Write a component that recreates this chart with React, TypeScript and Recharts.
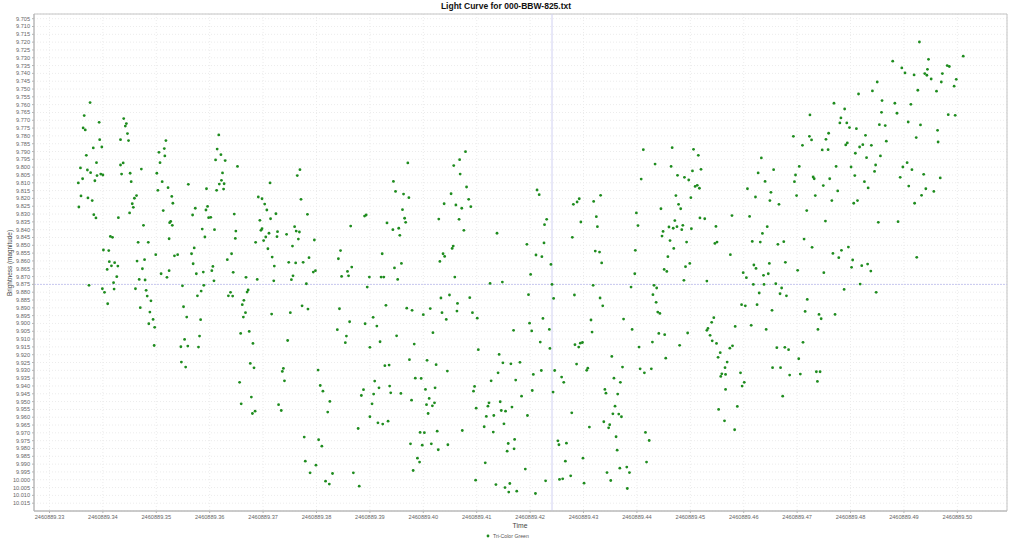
import React from 'react';
import {
  ScatterChart,
  Scatter,
  XAxis,
  YAxis,
  CartesianGrid,
  ReferenceLine,
  ReferenceArea,
} from 'recharts';

// Julian date base; times below are the fractional part of the day
const JD_BASE = 2460889;

const xTicks = [
  0.33, 0.34, 0.35, 0.36, 0.37, 0.38, 0.39, 0.4, 0.41, 0.42, 0.43, 0.44, 0.45, 0.46, 0.47, 0.48,
  0.49, 0.5,
];

const yTicks = [
  9.705, 9.71, 9.715, 9.72, 9.725, 9.73, 9.735, 9.74, 9.745, 9.75, 9.755, 9.76, 9.765, 9.77, 9.775,
  9.78, 9.785, 9.79, 9.795, 9.8, 9.805, 9.81, 9.815, 9.82, 9.825, 9.83, 9.835, 9.84, 9.845, 9.85,
  9.855, 9.86, 9.865, 9.87, 9.875, 9.88, 9.885, 9.89, 9.895, 9.9, 9.905, 9.91, 9.915, 9.92, 9.925,
  9.93, 9.935, 9.94, 9.945, 9.95, 9.955, 9.96, 9.965, 9.97, 9.975, 9.98, 9.985, 9.99, 9.995, 10.0,
  10.005, 10.01, 10.015,
];

const crosshairTime = 0.4241;
const crosshairMag = 9.875;

// observations [time fraction, magnitude], grouped by stretch of the night
const stretch1: [number, number][] = [
  [0.3376, 9.7587], [0.3365, 9.767], [0.3393, 9.7713], [0.3439, 9.7689], [0.3444, 9.7721],
  [0.3442, 9.7737], [0.3363, 9.7749], [0.3367, 9.7762], [0.3446, 9.7785], [0.3394, 9.7824],
  [0.3433, 9.7824], [0.3448, 9.783], [0.3518, 9.783], [0.3398, 9.7871], [0.3382, 9.7877],
  [0.3515, 9.7881], [0.3505, 9.7905], [0.3369, 9.7924], [0.3516, 9.7928], [0.3507, 9.7971],
  [0.3388, 9.7971], [0.3438, 9.7973], [0.3433, 9.7986], [0.3472, 9.8012], [0.3358, 9.8005],
  [0.3371, 9.8018], [0.3377, 9.8035], [0.3396, 9.8044], [0.34, 9.805], [0.3389, 9.8054],
  [0.3435, 9.8044], [0.3451, 9.8039], [0.3501, 9.8039], [0.3362, 9.8074], [0.3385, 9.8087],
  [0.3453, 9.8093], [0.3354, 9.8101], [0.3511, 9.8093], [0.356, 9.811], [0.3522, 9.8131],
  [0.3503, 9.8148], [0.3463, 9.8182], [0.3459, 9.8199], [0.3359, 9.8184], [0.3372, 9.8197],
  [0.338, 9.8214], [0.3529, 9.8187], [0.3455, 9.8234], [0.3531, 9.8231], [0.3355, 9.8255],
  [0.3457, 9.8257], [0.3573, 9.8263], [0.3513, 9.8278], [0.345, 9.8293], [0.3383, 9.8304],
  [0.3387, 9.8325], [0.3429, 9.8323], [0.3568, 9.8306], [0.3527, 9.8347], [0.3525, 9.8355],
  [0.353, 9.8372], [0.3476, 9.8372], [0.3586, 9.8396], [0.3414, 9.8443], [0.3418, 9.8449],
  [0.3524, 9.8458], [0.3466, 9.8481], [0.3485, 9.8481], [0.3571, 9.8517], [0.3401, 9.853],
  [0.3411, 9.8534], [0.3566, 9.8554], [0.3499, 9.856], [0.3534, 9.8567], [0.354, 9.856],
  [0.3478, 9.8592], [0.3464, 9.8601], [0.3412, 9.8605], [0.3422, 9.8611], [0.3569, 9.8618],
  [0.3416, 9.8631], [0.3428, 9.8633], [0.3408, 9.8654], [0.3474, 9.865], [0.3524, 9.8662],
  [0.3509, 9.8682], [0.3575, 9.8682], [0.3588, 9.8671], [0.352, 9.8705], [0.3426, 9.8701],
  [0.3468, 9.8718], [0.3479, 9.8722], [0.342, 9.8739], [0.3374, 9.8756], [0.3549, 9.8759],
  [0.3589, 9.8756], [0.3399, 9.8778], [0.3421, 9.878], [0.3461, 9.8778], [0.3481, 9.8788],
  [0.3403, 9.8801], [0.3584, 9.8793], [0.3483, 9.8825], [0.3577, 9.8823], [0.349, 9.8855],
  [0.3409, 9.8874], [0.3551, 9.8893], [0.347, 9.8899], [0.3488, 9.8927], [0.3557, 9.8959],
  [0.3494, 9.8974], [0.3583, 9.8976], [0.3486, 9.9002], [0.3497, 9.9025], [0.3581, 9.9081],
  [0.3553, 9.9102], [0.3496, 9.9141], [0.3546, 9.9149], [0.3559, 9.9145], [0.3579, 9.9151],
  [0.3547, 9.9247], [0.3555, 9.9279],
];

const stretch2: [number, number][] = [
  [0.3617, 9.7794], [0.3614, 9.7884], [0.3621, 9.792], [0.3611, 9.7954], [0.3629, 9.7958],
  [0.3652, 9.7995], [0.3769, 9.8016], [0.3624, 9.8037], [0.3764, 9.8054], [0.3622, 9.8084],
  [0.3618, 9.8108], [0.3627, 9.8106], [0.3713, 9.8101], [0.3594, 9.8138], [0.3613, 9.8148],
  [0.3626, 9.814], [0.3691, 9.8191], [0.3698, 9.8202], [0.3771, 9.8206], [0.3703, 9.8236],
  [0.3596, 9.8251], [0.3593, 9.8274], [0.3707, 9.8274], [0.3646, 9.83], [0.3724, 9.8298],
  [0.3783, 9.8302], [0.389, 9.8313], [0.3893, 9.8306], [0.3598, 9.8323], [0.3602, 9.8321],
  [0.3714, 9.833], [0.3694, 9.834], [0.3864, 9.8377], [0.3609, 9.84], [0.3759, 9.8381],
  [0.3698, 9.8394], [0.3696, 9.8404], [0.3649, 9.8409], [0.3762, 9.8409], [0.3768, 9.8415],
  [0.3727, 9.8413], [0.3711, 9.8423], [0.3744, 9.843], [0.3591, 9.8447], [0.3705, 9.8447],
  [0.3726, 9.8445], [0.3648, 9.8456], [0.3766, 9.846], [0.3796, 9.8466], [0.3701, 9.847],
  [0.3686, 9.8481], [0.3755, 9.8505], [0.3709, 9.8522], [0.3845, 9.8534], [0.3641, 9.8554],
  [0.3717, 9.8575], [0.3786, 9.8579], [0.3841, 9.8586], [0.3633, 9.8592], [0.3748, 9.8609],
  [0.3761, 9.8613], [0.3775, 9.8609], [0.3606, 9.8635], [0.3721, 9.8633], [0.3866, 9.8639],
  [0.3604, 9.8662], [0.3644, 9.8673], [0.3794, 9.8671], [0.3798, 9.8662], [0.3858, 9.8667],
  [0.3756, 9.8695], [0.3668, 9.8705], [0.3847, 9.8699], [0.386, 9.8695], [0.3899, 9.8703],
  [0.3608, 9.8727], [0.3689, 9.8718], [0.372, 9.8727], [0.3753, 9.872], [0.3781, 9.8746],
  [0.3895, 9.8767], [0.3672, 9.8786], [0.367, 9.8799], [0.3639, 9.8801], [0.3635, 9.8823],
  [0.3643, 9.8825], [0.3664, 9.8852], [0.3773, 9.8887], [0.3661, 9.888], [0.3784, 9.8908],
  [0.3843, 9.8906], [0.3667, 9.8931], [0.3716, 9.894], [0.3751, 9.8931], [0.3663, 9.8959],
  [0.3862, 9.8989], [0.3891, 9.9002], [0.3839, 9.904], [0.3658, 9.9064], [0.3674, 9.9051],
  [0.3856, 9.9081], [0.3854, 9.9123], [0.3681, 9.9128], [0.3746, 9.9109], [0.39, 9.9153],
  [0.3676, 9.9256], [0.3683, 9.9284], [0.3738, 9.9288], [0.3736, 9.9307], [0.3803, 9.9298],
  [0.3656, 9.9377], [0.374, 9.9367], [0.3807, 9.9397], [0.3812, 9.9433], [0.3888, 9.9424],
  [0.3884, 9.9461], [0.3678, 9.9471], [0.3825, 9.9499], [0.3659, 9.9514], [0.3729, 9.952],
  [0.368, 9.9576], [0.3685, 9.9561], [0.3734, 9.9557], [0.3821, 9.9567], [0.39, 9.9597],
  [0.3878, 9.9672], [0.3777, 9.9727], [0.3804, 9.9744], [0.381, 9.9785], [0.3779, 9.9881],
  [0.3799, 9.9907], [0.3788, 9.9956], [0.383, 9.996], [0.3869, 9.9956], [0.3817, 10.0009],
  [0.3824, 10.0028], [0.388, 10.0041],
];

const stretch3: [number, number][] = [
  [0.4079, 9.7901], [0.3971, 9.7973], [0.4068, 9.7952], [0.4057, 9.799], [0.4069, 9.8044],
  [0.3944, 9.8091], [0.4081, 9.8127], [0.3948, 9.8155], [0.3963, 9.8172], [0.4052, 9.817],
  [0.3973, 9.8195], [0.4085, 9.8206], [0.4039, 9.8234], [0.4061, 9.8242], [0.4072, 9.8263],
  [0.4089, 9.8253], [0.3961, 9.8272], [0.3965, 9.8327], [0.4029, 9.8332], [0.4067, 9.8334],
  [0.3967, 9.8353], [0.3932, 9.8357], [0.3954, 9.8391], [0.3943, 9.84], [0.4076, 9.8404],
  [0.3956, 9.8436], [0.4138, 9.8423], [0.4194, 9.8494], [0.4056, 9.8505], [0.4054, 9.852],
  [0.3923, 9.8554], [0.4037, 9.8554], [0.404, 9.8571], [0.4031, 9.8603], [0.3959, 9.8616],
  [0.3946, 9.8645], [0.4201, 9.8686], [0.3921, 9.8703], [0.3926, 9.8703], [0.4059, 9.8703],
  [0.3952, 9.8718], [0.4125, 9.8744], [0.4148, 9.8735], [0.4197, 9.8816], [0.4033, 9.8837],
  [0.4049, 9.8818], [0.4087, 9.8835], [0.4064, 9.8872], [0.393, 9.8884], [0.3969, 9.8902],
  [0.3979, 9.8916], [0.4013, 9.8905], [0.4063, 9.8921], [0.4035, 9.8931], [0.4, 9.8944],
  [0.4092, 9.8931], [0.3906, 9.8961], [0.4043, 9.8974], [0.4101, 9.8966], [0.4199, 9.8998],
  [0.3913, 9.9017], [0.4169, 9.9044], [0.4203, 9.9048], [0.4018, 9.9059], [0.395, 9.9079],
  [0.3919, 9.9117], [0.3983, 9.9132], [0.4103, 9.9168], [0.4142, 9.9198], [0.3974, 9.9232],
  [0.4007, 9.9236], [0.4149, 9.9252], [0.4164, 9.9258], [0.4181, 9.9249], [0.4024, 9.9264],
  [0.3928, 9.927], [0.3936, 9.9266], [0.4045, 9.9305], [0.414, 9.9316], [0.4206, 9.9326],
  [0.3985, 9.935], [0.3996, 9.9352], [0.3909, 9.9369], [0.4127, 9.9367], [0.4173, 9.9362],
  [0.3917, 9.9412], [0.3937, 9.9401], [0.4004, 9.9422], [0.4022, 9.9412], [0.4096, 9.9403],
  [0.4094, 9.9433], [0.4204, 9.9429], [0.3907, 9.9452], [0.3939, 9.9444], [0.3958, 9.9448],
  [0.4184, 9.9465], [0.3978, 9.9491], [0.4011, 9.948], [0.4021, 9.9508], [0.4006, 9.952],
  [0.4017, 9.9527], [0.3904, 9.9514], [0.4099, 9.9542], [0.4123, 9.9508], [0.4121, 9.9529],
  [0.4144, 9.9501], [0.4166, 9.9535], [0.4146, 9.9557], [0.4154, 9.9561], [0.4009, 9.9576],
  [0.4132, 9.9589], [0.4118, 9.9595], [0.4195, 9.9589], [0.3915, 9.9636], [0.3924, 9.9644],
  [0.3934, 9.9625], [0.4151, 9.9642], [0.4114, 9.9661], [0.4073, 9.9685], [0.4026, 9.9689],
  [0.3994, 9.9697], [0.4002, 9.9699], [0.4131, 9.9695], [0.4171, 9.9742], [0.3976, 9.977],
  [0.3998, 9.9779], [0.4015, 9.977], [0.4046, 9.9776], [0.4159, 9.9768], [0.4028, 9.9808],
  [0.4157, 9.9817], [0.417, 9.9802], [0.3989, 9.9862], [0.3993, 9.9887], [0.4116, 9.9892],
  [0.3981, 9.9941], [0.4191, 9.9932], [0.4098, 10.0003], [0.4136, 10.0031], [0.4162, 10.0024],
  [0.4153, 10.005], [0.416, 10.0079], [0.4175, 10.0073], [0.421, 10.0088],
];

const stretch4: [number, number][] = [
  [0.4412, 9.7888], [0.4466, 9.7875], [0.4506, 9.7886], [0.4515, 9.7924], [0.4434, 9.798],
  [0.4464, 9.7995], [0.4504, 9.8024], [0.4476, 9.8052], [0.4489, 9.8065], [0.4497, 9.8082],
  [0.4408, 9.8076], [0.4213, 9.8146], [0.4217, 9.8176], [0.4332, 9.818], [0.4473, 9.8182],
  [0.4501, 9.8195], [0.4292, 9.8202], [0.4319, 9.8219], [0.4288, 9.8223], [0.4281, 9.8238],
  [0.4478, 9.8238], [0.4445, 9.8266], [0.4482, 9.8266], [0.4399, 9.8293], [0.4324, 9.8317],
  [0.4518, 9.8325], [0.4471, 9.8342], [0.4231, 9.8334], [0.4295, 9.8351], [0.4227, 9.8368],
  [0.4326, 9.8381], [0.4402, 9.8374], [0.4486, 9.8372], [0.4475, 9.8381], [0.446, 9.8383],
  [0.4468, 9.8391], [0.4484, 9.84], [0.4502, 9.8394], [0.4449, 9.8411], [0.4279, 9.8449],
  [0.4447, 9.8441], [0.4462, 9.847], [0.4226, 9.8485], [0.4493, 9.8479], [0.4469, 9.852],
  [0.4322, 9.8537], [0.433, 9.8543], [0.4397, 9.8532], [0.4211, 9.8562], [0.4222, 9.8573],
  [0.4458, 9.8573], [0.4334, 9.8613], [0.4239, 9.8622], [0.4499, 9.8616], [0.4491, 9.8637],
  [0.4451, 9.8654], [0.4456, 9.8667], [0.4396, 9.8682], [0.4488, 9.8724], [0.4241, 9.875],
  [0.4318, 9.8756], [0.4389, 9.8767], [0.4432, 9.8756], [0.4437, 9.8773], [0.4283, 9.8818],
  [0.443, 9.8816], [0.4244, 9.884], [0.4331, 9.8837], [0.4436, 9.8865], [0.4336, 9.8887],
  [0.4439, 9.8927], [0.4443, 9.8936], [0.4224, 9.8968], [0.4314, 9.8978], [0.4375, 9.8972],
  [0.4236, 9.9038], [0.4316, 9.9055], [0.4391, 9.9038], [0.4441, 9.9064], [0.4452, 9.9072],
  [0.4495, 9.9061], [0.4219, 9.9119], [0.4284, 9.9136], [0.4294, 9.9126], [0.4298, 9.9122],
  [0.4291, 9.9151], [0.4429, 9.9119], [0.4237, 9.916], [0.4404, 9.9151], [0.448, 9.914],
  [0.4353, 9.9211], [0.4454, 9.9222], [0.4287, 9.926], [0.4308, 9.9286], [0.4306, 9.93],
  [0.4373, 9.9279], [0.4406, 9.929], [0.4427, 9.929], [0.4414, 9.9316], [0.4221, 9.9301],
  [0.4246, 9.9301], [0.4259, 9.9343], [0.4357, 9.935], [0.4263, 9.9377], [0.4369, 9.9377],
  [0.4243, 9.9439], [0.434, 9.9422], [0.4342, 9.9446], [0.4364, 9.9452], [0.4359, 9.9529],
  [0.4355, 9.9578], [0.4366, 9.958], [0.4371, 9.9597], [0.4278, 9.9572], [0.4338, 9.9629],
  [0.4349, 9.9648], [0.4347, 9.9668], [0.4311, 9.9663], [0.4416, 9.9697], [0.4361, 9.9725],
  [0.4423, 9.9749], [0.4252, 9.9751], [0.4254, 9.9776], [0.4268, 9.9766], [0.4363, 9.9811],
  [0.4299, 9.9862], [0.4266, 9.9881], [0.4418, 9.9887], [0.4381, 9.9919], [0.4368, 9.9926],
  [0.4344, 9.9954], [0.4386, 9.9954], [0.4276, 9.9975], [0.4255, 9.9998], [0.4261, 9.9994],
  [0.4351, 10.0005], [0.4229, 10.0007], [0.4301, 10.0022], [0.4382, 10.0056],
];

const stretch5: [number, number][] = [
  [0.4769, 9.7591], [0.4789, 9.7628], [0.4724, 9.7666], [0.4782, 9.7685], [0.478, 9.7717],
  [0.4793, 9.7717], [0.4798, 9.7747], [0.4759, 9.7783], [0.4693, 9.7803], [0.4723, 9.7803],
  [0.4727, 9.7826], [0.4754, 9.7822], [0.4794, 9.7845], [0.4791, 9.7858], [0.471, 9.786],
  [0.4747, 9.789], [0.4758, 9.7888], [0.4809, 9.7911], [0.4633, 9.7941], [0.4704, 9.7995],
  [0.4773, 9.7995], [0.4801, 9.7999], [0.452, 9.8014], [0.4656, 9.8016], [0.4627, 9.8037],
  [0.4697, 9.805], [0.473, 9.8063], [0.4732, 9.8074], [0.4761, 9.8074], [0.4808, 9.8054],
  [0.464, 9.8091], [0.4695, 9.8093], [0.4509, 9.8123], [0.4513, 9.8116], [0.4517, 9.8135],
  [0.4749, 9.8118], [0.4607, 9.8138], [0.4776, 9.8152], [0.4651, 9.8161], [0.4699, 9.8182],
  [0.4734, 9.8182], [0.4622, 9.8191], [0.4649, 9.8214], [0.4765, 9.8214], [0.4666, 9.8238],
  [0.4806, 9.8231], [0.4718, 9.8278], [0.4527, 9.833], [0.4578, 9.831], [0.4611, 9.8315],
  [0.4753, 9.8345], [0.4548, 9.8379], [0.4644, 9.8381], [0.4635, 9.8424], [0.4713, 9.846],
  [0.4616, 9.8475], [0.4631, 9.8479], [0.4675, 9.8477], [0.4664, 9.8494], [0.4546, 9.8488],
  [0.455, 9.8479], [0.4796, 9.8511], [0.4728, 9.8513], [0.4783, 9.8532], [0.4575, 9.856],
  [0.4767, 9.8552], [0.4778, 9.8579], [0.4804, 9.8594], [0.4678, 9.8609], [0.4648, 9.8616],
  [0.4619, 9.8626], [0.4623, 9.8648], [0.4802, 9.8641], [0.4701, 9.866], [0.4599, 9.8675],
  [0.475, 9.8675], [0.4646, 9.8682], [0.4637, 9.8692], [0.4605, 9.8707], [0.4531, 9.8729],
  [0.4618, 9.875], [0.4638, 9.875], [0.466, 9.8746], [0.4671, 9.8773], [0.4788, 9.8782],
  [0.4629, 9.8805], [0.4668, 9.881], [0.468, 9.8823], [0.4719, 9.8846], [0.4596, 9.888],
  [0.4603, 9.8887], [0.4625, 9.888], [0.4653, 9.8916], [0.4715, 9.8923], [0.4741, 9.8942],
  [0.4771, 9.8942], [0.4544, 9.8963], [0.4745, 9.897], [0.454, 9.8993], [0.4584, 9.9019],
  [0.4614, 9.9012], [0.4533, 9.9032], [0.4531, 9.9044], [0.4642, 9.9038], [0.4739, 9.9038],
  [0.4537, 9.9076], [0.4541, 9.9111], [0.4549, 9.9128], [0.4711, 9.9121], [0.4579, 9.9143],
  [0.4574, 9.9158], [0.4662, 9.9155], [0.4677, 9.9153], [0.4684, 9.9168], [0.4556, 9.9187],
  [0.4552, 9.9217], [0.4703, 9.9226], [0.4569, 9.9247], [0.4565, 9.9283], [0.4654, 9.9283],
  [0.4669, 9.9283], [0.4559, 9.9322], [0.4566, 9.9326], [0.4594, 9.9316], [0.4736, 9.9309],
  [0.4743, 9.9309], [0.4557, 9.9339], [0.4686, 9.933], [0.4706, 9.9324], [0.4738, 9.9371],
  [0.4601, 9.9377], [0.4597, 9.9401], [0.4566, 9.9422], [0.4673, 9.9465], [0.4588, 9.9531],
  [0.4553, 9.955], [0.4564, 9.9623], [0.4583, 9.968],
];

const stretch6: [number, number][] = [
  [0.4929, 9.7199], [0.5011, 9.729], [0.4879, 9.7322], [0.4946, 9.731], [0.4896, 9.7365],
  [0.4981, 9.735], [0.4985, 9.7356], [0.4944, 9.7374], [0.4902, 9.7397], [0.4919, 9.741],
  [0.4939, 9.7401], [0.4943, 9.7412], [0.4972, 9.7401], [0.4951, 9.7436], [0.4998, 9.7438],
  [0.485, 9.7455], [0.497, 9.7455], [0.4994, 9.7482], [0.4926, 9.7508], [0.4841, 9.7512],
  [0.4961, 9.7514], [0.4815, 9.7532], [0.4859, 9.7574], [0.4883, 9.7591], [0.4913, 9.7598],
  [0.4858, 9.7649], [0.4887, 9.7655], [0.4983, 9.7664], [0.4996, 9.7668], [0.4908, 9.7711],
  [0.4854, 9.7728], [0.4865, 9.7734], [0.4931, 9.773], [0.4811, 9.7754], [0.4963, 9.7764],
  [0.4828, 9.7796], [0.4923, 9.7811], [0.4867, 9.7834], [0.4964, 9.7839], [0.4823, 9.7856],
  [0.4817, 9.7871], [0.4839, 9.786], [0.4856, 9.7928], [0.483, 9.7939], [0.4906, 9.7971],
  [0.4847, 9.7986], [0.4898, 9.7999], [0.4915, 9.8016], [0.4845, 9.8027], [0.4937, 9.8046],
  [0.4968, 9.8069], [0.4893, 9.8065], [0.4826, 9.8093], [0.4909, 9.8121], [0.4833, 9.8133],
  [0.4941, 9.8138], [0.4956, 9.8155], [0.4933, 9.818], [0.4813, 9.8214], [0.492, 9.8231],
  [0.4852, 9.8353], [0.4889, 9.8349], [0.4924, 9.8577], [0.4821, 9.863], [0.4832, 9.862],
  [0.4838, 9.8665], [0.4818, 9.8748], [0.4848, 9.8801],
];

const observations = [...stretch1, ...stretch2, ...stretch3, ...stretch4, ...stretch5, ...stretch6].map(
  ([time, mag]) => ({ time, mag })
);

const X_DOMAIN: [number, number] = [0.3271, 0.5093];
const Y_DOMAIN: [number, number] = [9.702, 10.02];

const FONT = '"Liberation Sans", Arial, sans-serif';

const Dot = (props: any) => {
  const { cx, cy } = props;
  if (cx == null || cy == null) return null;
  return <circle cx={cx} cy={cy} r={1.4} fill="#1e8c1e" />;
};

const App: React.FC = () => {
  return (
    <div
      style={{
        position: 'absolute',
        left: 0,
        top: 0,
        width: 1024,
        height: 541,
        background: '#ffffff',
        fontFamily: FONT,
      }}
    >
      <div
        style={{
          position: 'absolute',
          left: 0,
          top: 0,
          width: 1012,
          textAlign: 'center',
          fontSize: 8.5,
          fontWeight: 'bold',
          lineHeight: '12px',
          color: '#111',
        }}
      >
        Light Curve for 000-BBW-825.txt
      </div>

      <ScatterChart
        width={1024}
        height={541}
        margin={{ top: 14, right: 17, bottom: 0, left: 0 }}
        style={{ fontFamily: FONT }}
      >
        <CartesianGrid strokeDasharray="1 2" stroke="#ececec" />
        <XAxis
          type="number"
          dataKey="time"
          domain={X_DOMAIN}
          ticks={xTicks}
          allowDataOverflow
          height={30}
          tickSize={2}
          tickMargin={2}
          interval={0}
          tickFormatter={(v: number) => (JD_BASE + v).toFixed(2)}
          tick={{ fontSize: 5.6, fill: '#666' }}
          stroke="#b4b4b4"
        />
        <YAxis
          type="number"
          dataKey="mag"
          reversed
          domain={Y_DOMAIN}
          ticks={yTicks}
          allowDataOverflow
          width={34}
          tickSize={2}
          tickMargin={2}
          interval={0}
          tickFormatter={(v: number) => v.toFixed(3)}
          tick={{ fontSize: 5.6, fill: '#666' }}
          stroke="#b4b4b4"
        />
        <ReferenceArea
          x1={X_DOMAIN[0]}
          x2={X_DOMAIN[1]}
          y1={Y_DOMAIN[0]}
          y2={Y_DOMAIN[1]}
          fill="none"
          stroke="#c4c4c4"
          ifOverflow="visible"
        />
        <ReferenceLine x={crosshairTime} stroke="#d0d0f2" strokeWidth={1} />
        <ReferenceLine y={crosshairMag} stroke="#c8c8f0" strokeDasharray="2 1" strokeWidth={1} />
        <Scatter data={observations} shape={Dot} isAnimationActive={false} />
      </ScatterChart>

      <div
        style={{
          position: 'absolute',
          left: 8.5,
          top: 262.5,
          transform: 'translate(-50%, -50%) rotate(-90deg)',
          fontSize: 6.4,
          color: '#444',
          whiteSpace: 'nowrap',
        }}
      >
        Brightness (magnitude)
      </div>
      <div
        style={{
          position: 'absolute',
          left: 520,
          top: 525,
          transform: 'translate(-50%, -50%)',
          fontSize: 6.8,
          color: '#444',
        }}
      >
        Time
      </div>
      <div
        style={{
          position: 'absolute',
          left: 486,
          top: 536,
          transform: 'translateY(-50%)',
          display: 'flex',
          alignItems: 'center',
          gap: 3,
          fontSize: 5.2,
          color: '#555',
          whiteSpace: 'nowrap',
        }}
      >
        <svg width={4} height={4}>
          <circle cx={2} cy={2} r={1.4} fill="#1e8c1e" />
        </svg>
        <span>Tri-Color Green</span>
      </div>
    </div>
  );
};

export default App;
